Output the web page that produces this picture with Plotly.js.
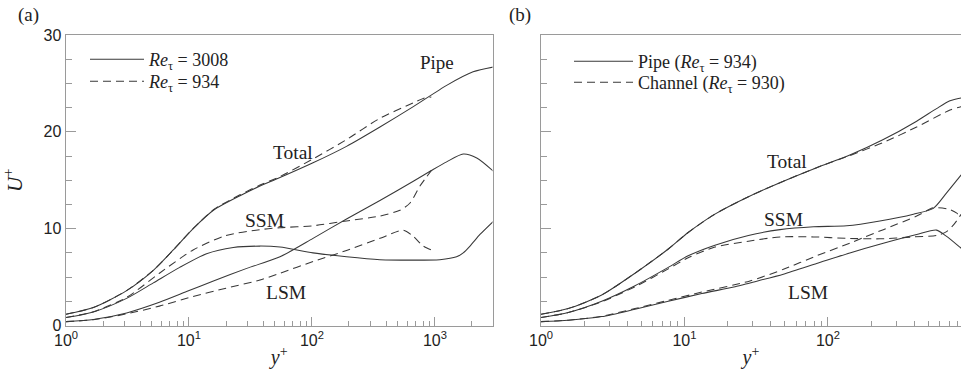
<!DOCTYPE html>
<html>
<head>
<meta charset="utf-8">
<script src="https://cdn.plot.ly/plotly-3.0.1.min.js"></script>
<style>html,body{margin:0;padding:0;background:#fff;}#chart{width:961px;height:369px;}</style>
</head>
<body>
<div id="chart"></div>
<script>
// ---------- Panel (a): pipe, Re_tau = 3008 (solid) vs 934 (dashed) ----------
var a_total3008_x = [1, 1.67, 3.11, 5.13, 7.45, 10.8, 15.8, 26, 37.8, 53.2, 102, 191, 357, 667, 1245, 2042, 3008];
var a_total3008_u = [1.16, 1.85, 3.6, 5.7, 7.8, 10.0, 11.9, 13.4, 14.4, 15.2, 16.8, 18.5, 20.5, 22.6, 24.8, 26.2, 26.7];

var a_total934_x = [1, 1.67, 3.11, 5.13, 7.45, 10.8, 15.8, 26, 37.8, 53.2, 102, 191, 357, 667, 804, 934];
var a_total934_u = [1.16, 1.85, 3.6, 5.7, 7.8, 10.0, 11.95, 13.5, 14.5, 15.3, 17.2, 19.2, 21.4, 23.0, 23.45, 23.6];

var a_ssm3008_x = [1, 1.67, 3.11, 5.13, 8.41, 13.9, 22.9, 37.8, 55, 102, 191, 357, 667, 1096, 1500, 1698, 1928, 2323, 3008];
var a_ssm3008_u = [0.82, 1.4, 2.8, 4.4, 6.0, 7.4, 8.05, 8.2, 8.1, 7.5, 7.1, 6.8, 6.75, 6.8, 7.1, 7.5, 8.2, 9.4, 10.8];

var a_ssm934_x = [1, 1.67, 3.11, 5.75, 10.8, 20, 37.8, 55, 102, 191, 357, 519, 627, 755, 934];
var a_ssm934_u = [0.82, 1.42, 2.9, 5.4, 7.8, 9.3, 9.9, 10.1, 10.3, 10.8, 11.3, 11.9, 12.65, 14.4, 16.0];

var a_lsm3008_x = [1, 1.67, 3.11, 5.75, 9.55, 15.8, 29.5, 55, 102, 191, 357, 667, 934, 1245, 1698, 2188, 3008];
var a_lsm3008_u = [0.4, 0.62, 1.3, 2.4, 3.5, 4.6, 5.9, 7.1, 9.0, 11.0, 12.9, 14.9, 16.0, 16.9, 17.7, 17.3, 15.9];

var a_lsm934_x = [1, 1.67, 3.11, 5.75, 10.8, 20, 37.8, 55, 102, 191, 357, 552, 667, 804, 934];
var a_lsm934_u = [0.4, 0.6, 1.2, 2.0, 3.0, 3.85, 4.7, 5.4, 6.6, 7.75, 9.0, 9.85, 9.2, 8.2, 7.8];

// ---------- Panel (b): pipe (Re_tau = 934, solid) vs channel (Re_tau = 930, dashed) ----------
var b_totalPipe_x = [1, 1.55, 2.65, 4.52, 7.71, 10.6, 16.3, 27.9, 48.9, 83.4, 142, 243, 415, 571, 708, 845, 934];
var b_totalPipe_u = [1.16, 1.75, 3.15, 5.4, 7.9, 9.6, 11.5, 13.3, 14.9, 16.3, 17.6, 19.2, 21.1, 22.4, 23.2, 23.5, 23.6];

var b_totalChan_x = [1, 1.55, 2.65, 4.52, 7.71, 10.6, 16.3, 27.9, 48.9, 83.4, 142, 243, 415, 708, 845, 930];
var b_totalChan_u = [1.16, 1.75, 3.15, 5.4, 7.9, 9.6, 11.5, 13.3, 14.9, 16.3, 17.55, 18.9, 20.5, 22.25, 22.6, 22.7];

var b_ssmPipe_x = [1, 1.55, 2.65, 4.52, 7.71, 10.6, 16.3, 27.9, 46.3, 79.4, 135, 230, 394, 542, 671, 832, 934];
var b_ssmPipe_u = [0.82, 1.34, 2.5, 4.1, 6.0, 7.2, 8.3, 9.3, 9.9, 10.2, 10.3, 10.8, 11.5, 12.1, 13.7, 15.4, 16.3];

var b_ssmChan_x = [1, 1.55, 2.65, 4.52, 7.71, 10.6, 16.3, 27.9, 46.3, 79.4, 135, 230, 394, 571, 671, 760, 845, 930];
var b_ssmChan_u = [0.82, 1.34, 2.45, 4.0, 5.85, 7.0, 8.1, 8.7, 9.15, 9.15, 9.0, 8.95, 9.15, 9.3, 9.7, 10.5, 11.45, 12.2];

var b_lsmPipe_x = [1, 1.55, 2.65, 4.52, 7.71, 13.2, 22.5, 28.6, 48.9, 83.4, 142, 243, 415, 571, 671, 845, 934];
var b_lsmPipe_u = [0.4, 0.55, 0.92, 1.68, 2.5, 3.3, 4.0, 4.4, 5.3, 6.4, 7.5, 8.5, 9.4, 9.85, 9.2, 8.0, 7.5];

var b_lsmChan_x = [1, 1.55, 2.65, 4.52, 7.71, 13.2, 28.6, 48.9, 83.4, 142, 178, 243, 415, 542, 700, 790, 845, 930];
var b_lsmChan_u = [0.4, 0.55, 0.95, 1.75, 2.6, 3.45, 4.6, 5.8, 7.2, 8.5, 9.1, 9.9, 11.3, 12.15, 12.0, 11.6, 11.2, 10.6];

// ---------- labels ----------
var legendA = ['<i>Re</i><sub>τ</sub> = 3008', '<i>Re</i><sub>τ</sub> = 934'];
var legendB = ['Pipe (<i>Re</i><sub>τ</sub> = 934)', 'Channel (<i>Re</i><sub>τ</sub> = 930)'];
var xTickVals = [1, 10, 100, 1000];
var xTickText = ['10<sup>0</sup>', '10<sup>1</sup>', '10<sup>2</sup>', '10<sup>3</sup>'];

var LC = '#383838';
var SOLID = {color: LC, width: 1.05, shape: 'spline', smoothing: 0.7};
var DASH = {color: LC, width: 1.05, shape: 'spline', smoothing: 0.7, dash: '8px,5px'};

function tr(x, y, line, xa, ya, name, leg) {
  return {x: x, y: y, type: 'scatter', mode: 'lines', line: line, xaxis: xa, yaxis: ya,
          name: name || '', showlegend: !!leg, legend: leg || 'legend', hoverinfo: 'skip'};
}

var data = [
  tr(a_total3008_x, a_total3008_u, SOLID, 'x', 'y', legendA[0], 'legend'),
  tr(a_total934_x, a_total934_u, DASH, 'x', 'y', legendA[1], 'legend2'),
  tr(a_ssm3008_x, a_ssm3008_u, SOLID, 'x', 'y'),
  tr(a_ssm934_x, a_ssm934_u, DASH, 'x', 'y'),
  tr(a_lsm3008_x, a_lsm3008_u, SOLID, 'x', 'y'),
  tr(a_lsm934_x, a_lsm934_u, DASH, 'x', 'y'),
  tr(b_totalPipe_x, b_totalPipe_u, SOLID, 'x2', 'y2', legendB[0], 'legend3'),
  tr(b_totalChan_x, b_totalChan_u, DASH, 'x2', 'y2', legendB[1], 'legend4'),
  tr(b_ssmPipe_x, b_ssmPipe_u, SOLID, 'x2', 'y2'),
  tr(b_ssmChan_x, b_ssmChan_u, DASH, 'x2', 'y2'),
  tr(b_lsmPipe_x, b_lsmPipe_u, SOLID, 'x2', 'y2'),
  tr(b_lsmChan_x, b_lsmChan_u, DASH, 'x2', 'y2')
];

// minor tick positions of the log axes (2..9 in each decade)
var minorVals = [];
for (var d = 1; d <= 1000; d *= 10) for (var k = 2; k <= 9; k++) minorVals.push(k * d);

var W = 961, H = 369;
var AX = '#9a9a9a';
var tickFont = {family: 'Liberation Sans, Arial, sans-serif', size: 16, color: '#222'};
var serif = 'Liberation Serif, Times New Roman, serif';
var yDom = [1 - 325.5 / H, 1 - 35 / H];

function xaxisDef(dom, rng, anchor) {
  return {domain: dom, type: 'log', range: rng, anchor: anchor,
    tickmode: 'array', tickvals: xTickVals, ticktext: xTickText,
    ticks: 'inside', ticklen: 9, tickwidth: 1, tickcolor: AX,
    minor: {tickmode: 'array', tickvals: minorVals, ticks: 'inside', ticklen: 5, tickwidth: 1, tickcolor: AX},
    showline: true, linecolor: AX, linewidth: 1.5, mirror: true,
    showgrid: false, zeroline: false, tickfont: tickFont,
    title: {text: '<i>y</i><sup>+</sup>', font: {family: serif, size: 20, color: '#222'}, standoff: 4},
    automargin: false};
}
function yaxisDef(anchor, labels, mirror) {
  return {domain: yDom, range: [0, 30], anchor: anchor, dtick: 10, tick0: 0,
    ticks: 'inside', ticklen: 10, tickwidth: 1, tickcolor: AX,
    minor: {dtick: 2.5, ticks: 'inside', ticklen: 6, tickwidth: 1, tickcolor: AX},
    showline: true, linecolor: AX, linewidth: 1.5, mirror: mirror,
    showgrid: false, zeroline: false, showticklabels: labels, tickfont: tickFont,
    automargin: false};
}

var xa = xaxisDef([66 / W, 492.5 / W], [0, 3.468], 'y');
var xb = xaxisDef([541 / W, 1], [0, 2.927], 'y2');
var ya = yaxisDef('x', true, true);
ya.title = {text: '<i>U</i><sup>+</sup>', font: {family: serif, size: 21, color: '#222'}, standoff: 18};
var yb = yaxisDef('x2', false, false);

function ann(text, px, py, size) {
  return {text: text, xref: 'paper', yref: 'paper', x: px / W, y: 1 - py / H,
          xanchor: 'center', yanchor: 'middle', showarrow: false,
          font: {family: serif, size: size || 19.5, color: '#222'}};
}

var legFont = {family: serif, size: 18, color: '#222'};
function legDef(px, py, iw) {
  return {x: px / W, y: 1 - py / H, xanchor: 'left', yanchor: 'top', bgcolor: 'rgba(0,0,0,0)',
          font: legFont, itemwidth: iw, tracegroupgap: 0};
}
var layout = {
  width: W, height: H,
  margin: {l: 0, r: 0, t: 0, b: 0},
  paper_bgcolor: '#fff', plot_bgcolor: '#fff',
  showlegend: true,
  xaxis: xa, yaxis: ya, xaxis2: xb, yaxis2: yb,
  legend: legDef(85, 41, 54),
  legend2: legDef(85, 63, 54),
  legend3: legDef(569, 43, 59),
  legend4: legDef(569, 64, 59),
  annotations: [
    ann('(a)', 28, 15, 19), ann('(b)', 520, 15, 19),
    ann('Pipe', 437, 62, 19),
    ann('Total', 293, 152), ann('SSM', 264, 220), ann('LSM', 286, 292),
    ann('Total', 787, 161), ann('SSM', 783, 219), ann('LSM', 808, 292)
  ]
};

Plotly.newPlot('chart', data, layout, {displayModeBar: false, staticPlot: true});
</script>
</body>
</html>
